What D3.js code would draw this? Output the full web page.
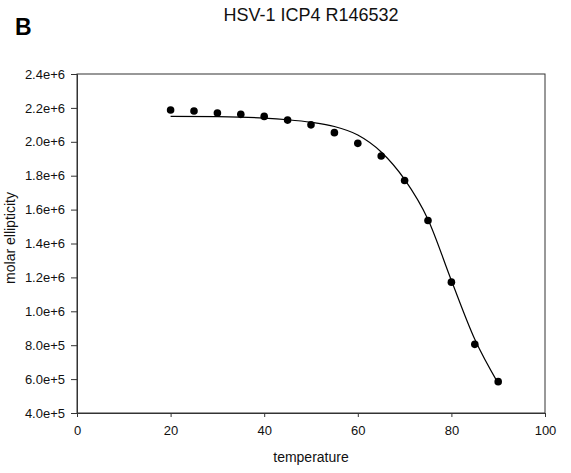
<!DOCTYPE html>
<html>
<head>
<meta charset="utf-8">
<script src="https://cdn.jsdelivr.net/npm/d3@7"></script>
<style>
  body { margin: 0; background: #fff; }
  svg { display: block; font-family: "Liberation Sans", Arial, sans-serif; }
</style>
</head>
<body>
<svg id="chart" width="571" height="473"></svg>
<script>
// Data
const temperature = [20, 25, 30, 35, 40, 45, 50, 55, 60, 65, 70, 75, 80, 85, 90];
const ellipticity = [2.188e6, 2.182e6, 2.170e6, 2.162e6, 2.150e6, 2.128e6, 2.100e6, 2.054e6, 1.991e6, 1.916e6, 1.772e6, 1.536e6, 1.172e6, 0.805e6, 0.585e6];
// Fitted curve
const fitTemperature = [20, 30, 40, 45, 50, 55, 60, 65, 70, 75, 80, 85, 90];
const fitEllipticity = [2.150e6, 2.148e6, 2.140e6, 2.130e6, 2.115e6, 2.090e6, 2.040e6, 1.940e6, 1.778e6, 1.542e6, 1.182e6, 0.835e6, 0.575e6];
const xTicks = [0, 20, 40, 60, 80, 100];
const yTicks = [4e5, 6e5, 8e5, 1.0e6, 1.2e6, 1.4e6, 1.6e6, 1.8e6, 2.0e6, 2.2e6, 2.4e6];
const titleText = "HSV-1 ICP4 R146532";
const panelLabel = "B";
const xLabel = "temperature";
const yLabel = "molar ellipticity";

const svg = d3.select("#chart");
const mLeft = 77, mRight = 545, mTop = 74, mBottom = 413;

const x = d3.scaleLinear().domain([0, 100]).range([mLeft, mRight]);
const y = d3.scaleLinear().domain([4e5, 2.4e6]).range([mBottom, mTop]);

// frame
svg.append("rect")
  .attr("x", mLeft).attr("y", mTop)
  .attr("width", mRight - mLeft).attr("height", mBottom - mTop)
  .attr("fill", "none").attr("stroke", "#333").attr("stroke-width", 1);

// axes
const xAxis = d3.axisBottom(x).tickValues(xTicks).tickSize(4).tickPadding(9).tickFormat(d3.format("d"));
const gx = svg.append("g").attr("transform", `translate(0,${mBottom})`).call(xAxis);
const yAxis = d3.axisLeft(y).tickValues(yTicks).tickSize(6).tickPadding(6).tickFormat(d3.format(".1e"));
const gy = svg.append("g").attr("transform", `translate(${mLeft},0)`).call(yAxis);
[gx, gy].forEach(g => {
  g.select(".domain").attr("stroke", "#333");
  g.selectAll(".tick line").attr("stroke", "#333");
  g.selectAll(".tick text").attr("font-size", 13).attr("fill", "#111")
    .attr("font-family", "'Liberation Sans', Arial, sans-serif");
});

// fitted curve
const line = d3.line()
  .x((d, i) => x(fitTemperature[i]))
  .y((d, i) => y(fitEllipticity[i]))
  .curve(d3.curveMonotoneX);
svg.append("path")
  .datum(fitEllipticity)
  .attr("d", line)
  .attr("fill", "none").attr("stroke", "#000").attr("stroke-width", 1.2);

// points
svg.append("g").selectAll("circle")
  .data(temperature)
  .join("circle")
  .attr("cx", d => x(d))
  .attr("cy", (d, i) => y(ellipticity[i]))
  .attr("r", 3.8)
  .attr("fill", "#000");

// texts
svg.append("text").attr("x", (mLeft + mRight) / 2).attr("y", 21)
  .attr("text-anchor", "middle").attr("font-size", 18).attr("fill", "#111")
  .text(titleText);
svg.append("text").attr("x", 15).attr("y", 35)
  .attr("font-size", 23).attr("font-weight", "bold").attr("fill", "#000")
  .text(panelLabel);
svg.append("text").attr("x", (mLeft + mRight) / 2).attr("y", 462)
  .attr("text-anchor", "middle").attr("font-size", 14).attr("fill", "#111")
  .text(xLabel);
svg.append("text").attr("transform", "translate(15,238) rotate(-90)")
  .attr("text-anchor", "middle").attr("font-size", 14).attr("fill", "#111")
  .text(yLabel);
</script>
</body>
</html>
